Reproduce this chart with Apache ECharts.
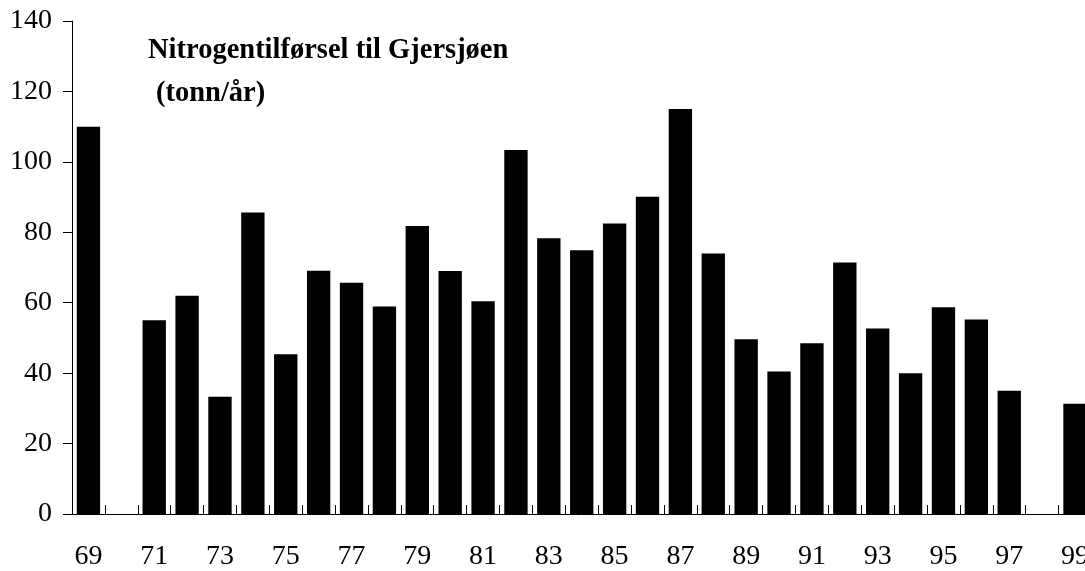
<!DOCTYPE html>
<html>
<head>
<meta charset="utf-8">
<script src="https://cdn.jsdelivr.net/npm/echarts@6/dist/echarts.min.js"></script>
<style>
html, body { margin: 0; padding: 0; background: #fff; overflow: hidden; }
/* plottet er bredere enn vinduet, siste søyle blir kuttet */
#chart { width: 1092px; height: 571px; }
</style>
</head>
<body>
<div id="chart"></div>
<script>
// år 1969-1999, 1970 og 1998 mangler
var years = ['69', '70', '71', '72', '73', '74', '75', '76', '77', '78', '79',
	'80', '81', '82', '83', '84', '85', '86', '87', '88', '89',
	'90', '91', '92', '93', '94', '95', '96', '97', '98', '99'];
var nitrogen = [110, null, 55, 62, 33.3, 85.6, 45.4, 69.1, 65.7, 58.9, 81.8,
	69, 60.4, 103.4, 78.3, 74.9, 82.5, 90.1, 115, 74, 49.6,
	40.5, 48.5, 71.4, 52.7, 40, 58.7, 55.2, 35, null, 31.3];
var yTicks = { min: 0, max: 140, step: 20 };

var serif = '"Liberation Serif", "Times New Roman", serif';

var option = {
	animation: false,
	backgroundColor: '#fff',
	title: [{
		text: 'Nitrogentilførsel til Gjersjøen',
		left: 143,
		top: 31,
		textStyle: { fontFamily: serif, fontWeight: 'bold', fontSize: 28.5, color: '#000' }
	}, {
		text: '(tonn/år)',
		left: 151,
		top: 74,
		textStyle: { fontFamily: serif, fontWeight: 'bold', fontSize: 28.5, color: '#000' }
	}],
	grid: {
		left: 72,
		right: 0,
		top: 21,
		bottom: 55,
		containLabel: false
	},
	xAxis: {
		type: 'category',
		data: years,
		axisLine: { lineStyle: { color: '#000', width: 1 } },
		axisTick: { show: true, inside: true, interval: 0, length: 9, lineStyle: { color: '#000' } },
		axisLabel: {
			interval: 1,
			margin: 29,
			fontFamily: serif,
			fontSize: 28,
			color: '#000'
		}
	},
	yAxis: {
		type: 'value',
		min: yTicks.min,
		max: yTicks.max,
		interval: yTicks.step,
		splitLine: { show: false },
		axisLine: { show: true, lineStyle: { color: '#000', width: 1 } },
		axisTick: { show: true, length: 9, lineStyle: { color: '#000' } },
		axisLabel: {
			margin: 20,
			fontFamily: serif,
			fontSize: 28,
			color: '#000'
		}
	},
	series: [{
		type: 'bar',
		data: nitrogen,
		barCategoryGap: '29%',
		itemStyle: { color: '#000' }
	}]
};

var myChart = echarts.init(document.getElementById('chart'));
myChart.setOption(option);
</script>
</body>
</html>
